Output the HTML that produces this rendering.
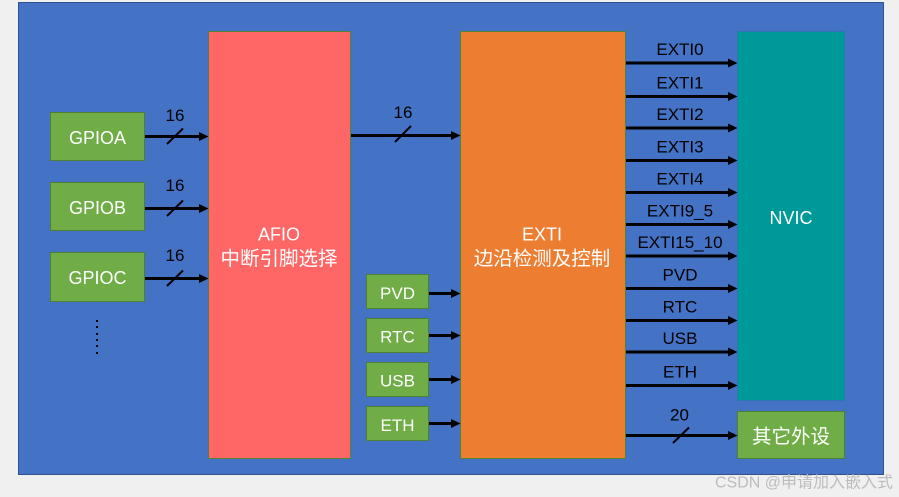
<!DOCTYPE html>
<html><head><meta charset="utf-8"><style>
html,body{margin:0;padding:0;background:#f0f0f0;}
svg{display:block;}
text{font-family:"Liberation Sans","Noto Sans CJK SC",sans-serif;}
</style></head><body>
<svg width="899" height="497" viewBox="0 0 899 497" xmlns="http://www.w3.org/2000/svg">
<rect x="0" y="0" width="899" height="497" fill="#f0f0f0"/>
<rect x="18.5" y="2.5" width="865" height="472" fill="#4472c4" stroke="#2f528f" stroke-width="1"/>

<g fill="#70ad47" stroke="#507e32" stroke-width="1">
<rect x="50.5" y="112.5" width="94" height="48"/>
<rect x="50.5" y="182.5" width="94" height="48"/>
<rect x="50.5" y="252.5" width="94" height="49"/>
<rect x="366.5" y="274.5" width="62" height="34"/>
<rect x="366.5" y="318.5" width="62" height="34"/>
<rect x="366.5" y="362.5" width="62" height="34"/>
<rect x="366.5" y="406.5" width="62" height="34"/>
<rect x="737.5" y="411.5" width="107" height="47"/>
</g>
<rect x="208.5" y="31.5" width="142" height="427" fill="#ff6666" stroke="#548235" stroke-width="1"/>
<rect x="460.5" y="31.5" width="165" height="427" fill="#ed7d31" stroke="#548235" stroke-width="1"/>
<rect x="737.5" y="31.5" width="107" height="369" fill="#009999" stroke="#2e75b6" stroke-width="1"/>

<g stroke="#000" stroke-width="3">
<line x1="145" y1="136.5" x2="200" y2="136.5"/>
<line x1="145" y1="208.5" x2="200" y2="208.5"/>
<line x1="145" y1="278.5" x2="200" y2="278.5"/>
<line x1="351" y1="135.5" x2="452" y2="135.5"/>
<line x1="429" y1="293.5" x2="452" y2="293.5"/>
<line x1="429" y1="335.5" x2="452" y2="335.5"/>
<line x1="429" y1="379.5" x2="452" y2="379.5"/>
<line x1="429" y1="423.5" x2="452" y2="423.5"/>
<line x1="626" y1="63" x2="729" y2="63"/>
<line x1="626" y1="96.5" x2="729" y2="96.5"/>
<line x1="626" y1="128" x2="729" y2="128"/>
<line x1="626" y1="160.5" x2="729" y2="160.5"/>
<line x1="626" y1="192.5" x2="729" y2="192.5"/>
<line x1="626" y1="224.5" x2="729" y2="224.5"/>
<line x1="626" y1="256" x2="729" y2="256"/>
<line x1="626" y1="288.5" x2="729" y2="288.5"/>
<line x1="626" y1="320.5" x2="729" y2="320.5"/>
<line x1="626" y1="352" x2="729" y2="352"/>
<line x1="626" y1="385.5" x2="729" y2="385.5"/>
<line x1="626" y1="435.5" x2="729" y2="435.5"/>
</g>
<g fill="#000">
<polygon points="199,132 208.5,136.5 199,141"/>
<polygon points="199,204 208.5,208.5 199,213"/>
<polygon points="199,274 208.5,278.5 199,283"/>
<polygon points="451,131 460.5,135.5 451,140"/>
<polygon points="451,289 460.5,293.5 451,298"/>
<polygon points="451,331 460.5,335.5 451,340"/>
<polygon points="451,375 460.5,379.5 451,384"/>
<polygon points="451,419 460.5,423.5 451,428"/>
<polygon points="728,58.5 737.5,63 728,67.5"/>
<polygon points="728,92 737.5,96.5 728,101"/>
<polygon points="728,123.5 737.5,128 728,132.5"/>
<polygon points="728,156 737.5,160.5 728,165"/>
<polygon points="728,188 737.5,192.5 728,197"/>
<polygon points="728,220 737.5,224.5 728,229"/>
<polygon points="728,251.5 737.5,256 728,260.5"/>
<polygon points="728,284 737.5,288.5 728,293"/>
<polygon points="728,316 737.5,320.5 728,325"/>
<polygon points="728,347.5 737.5,352 728,356.5"/>
<polygon points="728,381 737.5,385.5 728,390"/>
<polygon points="728,431 737.5,435.5 728,440"/>
</g>
<g stroke="#000" stroke-width="2">
<line x1="167" y1="144" x2="183" y2="128.5"/>
<line x1="167" y1="216" x2="183" y2="200.5"/>
<line x1="167" y1="286" x2="183" y2="270.5"/>
<line x1="395" y1="142" x2="411" y2="126"/>
<line x1="673" y1="443" x2="689" y2="427.5"/>
</g>
<g fill="#000">
<rect x="96" y="320" width="2" height="2"/>
<rect x="96" y="326" width="2" height="2"/>
<rect x="96" y="333" width="2" height="2"/>
<rect x="96" y="339" width="2" height="2"/>
<rect x="96" y="345" width="2" height="2"/>
<rect x="96" y="352" width="2" height="2"/>
</g>

<g fill="#fff" text-anchor="middle" font-size="18">
<text x="97.5" y="144">GPIOA</text>
<text x="97.5" y="214">GPIOB</text>
<text x="97.5" y="284">GPIOC</text>
<text x="279" y="240.5">AFIO</text>
<text x="279" y="265" font-size="19.5">中断引脚选择</text>
<text x="542" y="240.5">EXTI</text>
<text x="542" y="265" font-size="19.5">边沿检测及控制</text>
<text x="791" y="224">NVIC</text>
<text x="791" y="443" font-size="19.5">其它外设</text>
<text x="397.5" y="299" font-size="17">PVD</text>
<text x="397.5" y="342.5" font-size="17">RTC</text>
<text x="397.5" y="386.5" font-size="17">USB</text>
<text x="397.5" y="431" font-size="17">ETH</text>
</g>

<g fill="#000" text-anchor="middle" font-size="17">
<text x="175" y="121">16</text>
<text x="175" y="191">16</text>
<text x="175" y="261">16</text>
<text x="403" y="118">16</text>
<text x="680" y="55">EXTI0</text>
<text x="680" y="88.5">EXTI1</text>
<text x="680" y="120">EXTI2</text>
<text x="680" y="152.5">EXTI3</text>
<text x="680" y="184.5">EXTI4</text>
<text x="680" y="216.5">EXTI9_5</text>
<text x="680" y="248">EXTI15_10</text>
<text x="680" y="280.5">PVD</text>
<text x="680" y="312.5">RTC</text>
<text x="680" y="344">USB</text>
<text x="680" y="377.5">ETH</text>
<text x="679.5" y="420.5">20</text>
</g>

<text x="715" y="487.5" font-size="16" fill="#bcbcbc">CSDN @申请加入嵌入式</text>
</svg>
</body></html>
